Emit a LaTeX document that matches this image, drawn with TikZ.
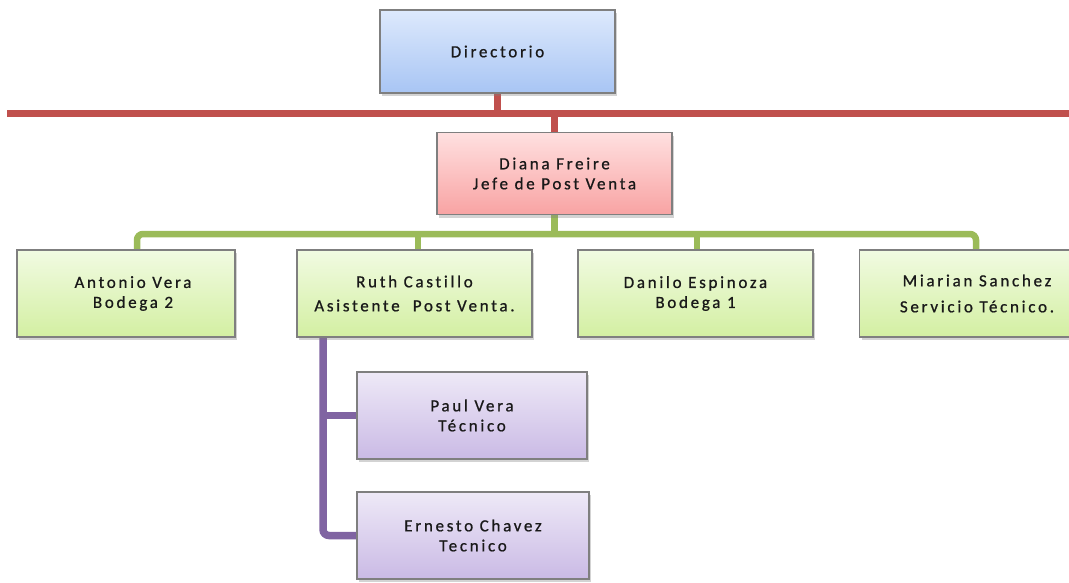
\documentclass[tikz,border=0pt]{standalone}
\usepackage{fontspec}
\setmainfont{Carlito}[RawFeature=-liga]
\usetikzlibrary{shadows,backgrounds}

\definecolor{boxline}{HTML}{7F7F7F}
\definecolor{redbus}{HTML}{C0504D}
\definecolor{greenbus}{HTML}{9BBB59}
\definecolor{purplebus}{HTML}{8064A2}
\definecolor{blueTop}{HTML}{DDE9FC}
\definecolor{blueBot}{HTML}{A8C5F4}
\definecolor{redTop}{HTML}{FFE0E0}
\definecolor{redBot}{HTML}{F8A3A3}
\definecolor{greenTop}{HTML}{F1FBE2}
\definecolor{greenBot}{HTML}{D3EFA2}
\definecolor{purpleTop}{HTML}{EEE9F7}
\definecolor{purpleBot}{HTML}{CABAE5}

\tikzset{
  orgbox/.style={draw=boxline, line width=1.2pt, rectangle, align=center,
    minimum width=235pt, minimum height=85pt, inner sep=0pt,
    font=\fontsize{17}{20}\selectfont\addfontfeature{LetterSpace=16,FakeBold=0.8},
    text=black!90,
    drop shadow={opacity=0.35, shadow xshift=2pt, shadow yshift=-3pt}},
  bluebox/.style={orgbox, top color=blueTop, bottom color=blueBot},
  pinkbox/.style={orgbox, top color=redTop, bottom color=redBot},
  greenbox/.style={orgbox, top color=greenTop, bottom color=greenBot},
  lilacbox/.style={orgbox, top color=purpleTop, bottom color=purpleBot},
  redline/.style={draw=redbus, line width=7pt},
  greenline/.style={draw=greenbus, line width=6.5pt},
  purpleline/.style={draw=purplebus, line width=7.5pt},
}

\begin{document}
\begin{tikzpicture}[x=1pt, y=-1pt]
  \useasboundingbox (0,0) rectangle (1069,582);
  \clip (0,0) rectangle (1069,582);

  % boxes
  \node[bluebox, minimum height=83pt] (dir) at (497.5,51.5) {Directorio};
  \node[pinkbox, minimum height=82pt] (diana) at (554.5,173.5) {Diana Freire\\Jefe de Post Venta};
  \node[greenbox, minimum width=218pt, minimum height=87pt] (antonio) at (126,293.5) {\hspace*{14pt}Antonio Vera\\\hspace*{14pt}Bodega 2};
  \node[greenbox, minimum height=87pt] (ruth) at (414.5,293.5) {Ruth Castillo\\[4pt]Asistente\ \ Post Venta.};
  \node[greenbox, minimum height=87pt] (danilo) at (695.5,293.5) {Danilo Espinoza\\Bodega 1};
  \node[greenbox, minimum height=87pt] (miarian) at (977,293.5) {Miarian Sanchez\\[6pt]Servicio Técnico.};
  \node[lilacbox, minimum width=230pt, minimum height=87pt] (paul) at (472,415.5) {Paul Vera\\Técnico};
  \node[lilacbox, minimum width=232pt, minimum height=87pt] (ernesto) at (473,535.5) {Ernesto Chavez\\Tecnico};

  % connector anchor points
  \coordinate (redL) at (7,113);
  \coordinate (redR) at (1069,113);
  \coordinate (tapA) at (137,234);
  \coordinate (tapR) at (418,234);
  \coordinate (tapD) at (697,234);
  \coordinate (tapM) at (976,234);
  \coordinate (ptrunk) at (323,337);

  \begin{scope}[on background layer]
    % red bar under the board
    \draw[redline] (redL) -- (redR);
    \draw[redline] (dir.south) -- (dir.south |- redL);
    \draw[redline] (diana.north |- redL) -- (diana.north);
    % green bus to the four team boxes
    \draw[greenline] (diana.south) -- (diana.south |- tapA);
    \draw[greenline, rounded corners=6pt]
      (tapA |- antonio.north) -- (tapA) -- (tapM) -- (tapM |- miarian.north);
    \draw[greenline] (tapR) -- (tapR |- ruth.north);
    \draw[greenline] (tapD) -- (tapD |- danilo.north);
    % purple trunk under Ruth Castillo
    \draw[purpleline, rounded corners=6pt]
      (ptrunk |- ruth.south) -- (ptrunk |- ernesto.west) -- (ernesto.west);
    \draw[purpleline] (ptrunk |- paul.west) -- (paul.west);
  \end{scope}
\end{tikzpicture}
\end{document}
